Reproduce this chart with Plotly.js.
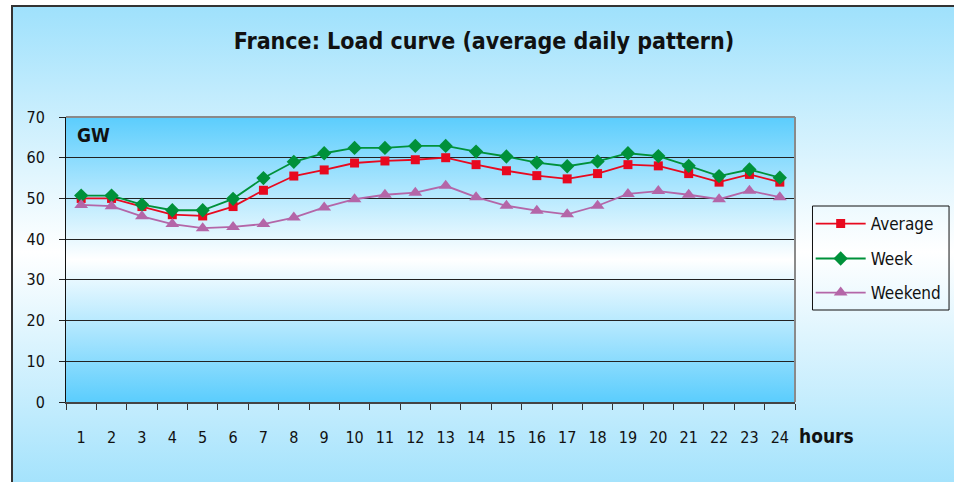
<!DOCTYPE html>
<html>
<head>
<meta charset="utf-8">
<script src="https://cdn.plot.ly/plotly-3.0.1.min.js"></script>
<style>
  html, body { margin: 0; padding: 0; background: #ffffff; width: 954px; height: 482px; overflow: hidden; }
  #bg { position: absolute; left: 11px; top: 5px; width: 960px; height: 490px;
        border-left: 2px solid #333; border-top: 2px solid #333;
        background: linear-gradient(#9fe1fc, #ffffff 50%, #9fe1fc); }
  #pa { position: absolute; left: 66px; top: 117px; width: 729px; height: 285px;
        background: linear-gradient(#5bcdfd, #ffffff 50%, #5bcdfd); }
  #chart { position: absolute; left: 0; top: 0; width: 954px; height: 482px; }
</style>
</head>
<body>
<div id="bg"></div>
<div id="pa"></div>
<div id="chart"></div>
<script>
const hours = ["1","2","3","4","5","6","7","8","9","10","11","12","13","14","15","16","17","18","19","20","21","22","23","24"];
const average = [50.0, 50.0, 48.0, 46.0, 45.7, 48.0, 52.0, 55.5, 57.0, 58.7, 59.2, 59.5, 60.0, 58.3, 56.8, 55.6, 54.8, 56.1, 58.3, 58.0, 56.1, 54.0, 55.9, 54.0];
const week    = [50.7, 50.7, 48.5, 47.1, 47.1, 49.9, 55.0, 59.0, 61.1, 62.4, 62.4, 62.9, 62.9, 61.5, 60.3, 58.8, 57.9, 59.1, 61.1, 60.4, 58.0, 55.5, 57.1, 55.1];
const weekend = [48.4, 48.1, 45.6, 43.7, 42.7, 43.0, 43.7, 45.3, 47.8, 49.8, 50.9, 51.4, 53.1, 50.3, 48.2, 47.0, 46.1, 48.2, 51.1, 51.8, 50.9, 49.8, 51.9, 50.3];
const seriesNames = ["Average", "Week", "Weekend"];
const yTicks = [0, 10, 20, 30, 40, 50, 60, 70];

const FONT = "DejaVu Sans Condensed, DejaVu Sans, sans-serif";

const traces = [
  { x: hours, y: average, name: seriesNames[0], type: "scatter", mode: "lines+markers",
    line: { color: "#e8091f", width: 1.8 },
    marker: { symbol: "square", size: 9, color: "#e8091f" }, legend: "legend" },
  { x: hours, y: week, name: seriesNames[1], type: "scatter", mode: "lines+markers",
    line: { color: "#00913a", width: 1.8 },
    marker: { symbol: "diamond", size: 11, color: "#00913a" }, legend: "legend2" },
  { x: hours, y: weekend, name: seriesNames[2], type: "scatter", mode: "lines+markers",
    line: { color: "#b466a8", width: 1.8 },
    marker: { symbol: "triangle-up", size: 12, color: "#b466a8" }, legend: "legend3" }
];

function leg(y) {
  return { x: 1.0215, xanchor: "left", y: y, yanchor: "middle", bgcolor: "rgba(0,0,0,0)",
           borderwidth: 0, itemwidth: 50, font: { family: FONT, size: 17, color: "#111" } };
}

const layout = {
  width: 954, height: 482,
  margin: { l: 66, r: 159, t: 117, b: 80, pad: 0, autoexpand: false },
  paper_bgcolor: "rgba(0,0,0,0)",
  plot_bgcolor: "rgba(0,0,0,0)",
  showlegend: true,
  title: { text: "<b>France: Load curve (average daily pattern)</b>",
           xref: "container", x: 484 / 954, xanchor: "center",
           yref: "container", y: 1 - 41 / 482, yanchor: "middle",
           font: { family: FONT, size: 23, color: "#111" } },
  xaxis: { type: "category", range: [-0.5, 23.5], tickson: "boundaries",
           ticks: "outside", ticklen: 6, tickcolor: "#333", tickwidth: 1,
           showline: true, linecolor: "#444", linewidth: 2, showgrid: false, zeroline: false,
           ticklabelstandoff: 20,
           tickfont: { family: FONT, size: 16, color: "#111" }, fixedrange: true },
  yaxis: { range: [0, 70], tickvals: yTicks, ticktext: yTicks.map(String),
           ticks: "outside", ticklen: 6, tickcolor: "#222", tickwidth: 1,
           showline: true, linecolor: "#111", linewidth: 1,
           showgrid: true, gridcolor: "#222", gridwidth: 1, zeroline: false,
           ticklabelstandoff: 11,
           tickfont: { family: FONT, size: 16, color: "#111" }, fixedrange: true },
  legend: leg(0.6246),
  legend2: leg(0.5020),
  legend3: leg(0.3825),
  shapes: [
    { type: "line", xref: "paper", yref: "paper", x0: 0, x1: 1, y0: 1, y1: 1,
      line: { color: "#8a8a8a", width: 2 }, layer: "above" },
    { type: "line", xref: "paper", yref: "paper", x0: 1, x1: 1, y0: 0, y1: 1,
      line: { color: "#8a8a8a", width: 2 }, layer: "above" },
    { type: "rect", xref: "paper", yref: "paper", x0: 1.024, x1: 1.2113, y0: 0.3228, y1: 0.6877,
      line: { color: "#111", width: 1 }, fillcolor: "rgba(0,0,0,0)", layer: "above" }
  ],
  annotations: [
    { text: "<b>GW</b>", xref: "paper", yref: "paper", x: (75 - 66) / 729, y: (402 - 135) / 285,
      xanchor: "left", yanchor: "middle", showarrow: false,
      font: { family: FONT, size: 19, color: "#111" } },
    { text: "<b>hours</b>", xref: "paper", yref: "paper", x: (797 - 66) / 729, y: (402 - 436) / 285,
      xanchor: "left", yanchor: "middle", showarrow: false,
      font: { family: FONT, size: 19, color: "#111" } }
  ]
};

Plotly.newPlot("chart", traces, layout, { displayModeBar: false, staticPlot: true });
</script>
</body>
</html>
